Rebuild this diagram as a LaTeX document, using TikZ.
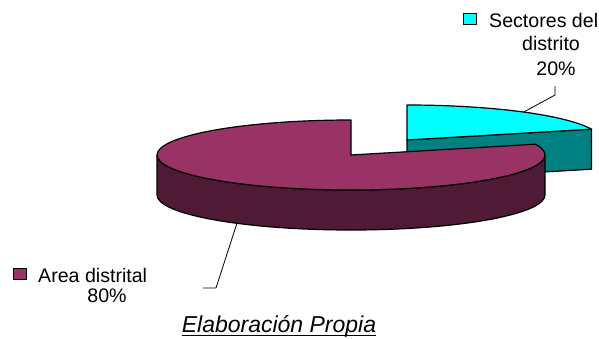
\documentclass[tikz,border=0pt]{standalone}
\usepackage{fontspec}
\setmainfont{Liberation Sans}
\definecolor{plum}{HTML}{993366}
\definecolor{plumside}{HTML}{4F1A35}
\definecolor{aqua}{HTML}{00FFFF}
\definecolor{tealside}{HTML}{008080}
\begin{document}
\begin{tikzpicture}[x=1pt, y=-1pt, line join=round,
    slice/.style={draw=black, line width=1.2pt},
    lbl/.style={font=\fontsize{19.6}{23}\selectfont, inner sep=0pt},
    key/.style={draw=black, line width=0.8pt, minimum width=13pt, minimum height=11pt, inner sep=0pt}]
    \useasboundingbox (0,0) rectangle (599,338);

    % Define coordinates
    \coordinate (M) at (351,155);      % centre of big slice
    \coordinate (C) at (407,140);      % centre of pulled-out slice
    \coordinate (C18) at (591.5,129.2);
    \coordinate (C18b) at (591.5,169.2);
    \coordinate (Cb) at (407,180);

    % Pulled-out slice: front face, then top
    \draw[slice, fill=tealside] (C) -- (C18) -- (C18b) -- (Cb) -- cycle;
    \draw[slice, fill=aqua] (C) -- (407,105)
        arc[start angle=-90, end angle=-18, x radius=194, y radius=35] -- cycle;

    % Big slice: rim, then top
    \draw[slice, fill=plumside] (157,155)
        arc[start angle=180, end angle=0, x radius=194, y radius=35] -- ++(0,40)
        arc[start angle=0, end angle=180, x radius=194, y radius=35] -- cycle;
    \draw[slice, fill=plum] (M) -- (351,120)
        arc[start angle=-90, end angle=-378, x radius=194, y radius=35] -- cycle;

    % Leader lines
    \coordinate (secpt) at (523.8,112);
    \coordinate (secbend) at (555,95);
    \coordinate (secend) at (555,86);
    \coordinate (areapt) at (237,223);
    \coordinate (areabend) at (216,288);
    \coordinate (areaend) at (203,288);
    \draw[thick] (secpt) -- (secbend) -- (secend);
    \draw[thick] (areapt) -- (areabend) -- (areaend);

    % Labels
    \node[key, fill=aqua] (seckey) at (470,18.5) {};
    \node[lbl, anchor=base west] (sec1) at (489,27) {Sectores del};
    \node[lbl, anchor=base] (sec2) at (551,50) {distrito};
    \node[lbl, anchor=base] (sec3) at (556,75) {20\%};

    \node[key, fill=plum] (areakey) at (19.5,274) {};
    \node[lbl, anchor=base west] (area1) at (38,282) {Area distrital};
    \node[lbl, anchor=base] (area2) at (107,302) {80\%};

    % Caption
    \node[inner sep=0pt, anchor=base, font=\fontsize{23}{27}\selectfont\itshape] (cap) at (279,332) {Elaboración Propia};
    \draw[line width=1.2pt] ([yshift=-3.5pt]cap.base west) -- ([yshift=-3.5pt]cap.base east);
\end{tikzpicture}
\end{document}
